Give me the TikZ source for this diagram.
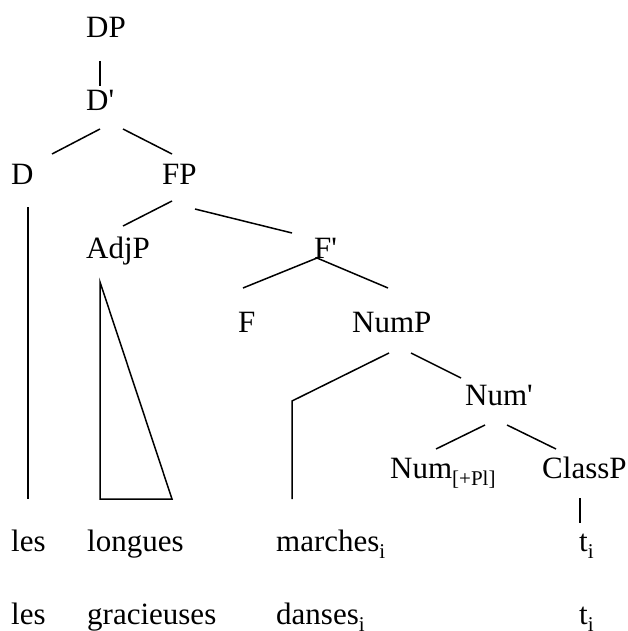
\documentclass[tikz,border=0pt]{standalone}
\usepackage{fontspec}
\setmainfont{Liberation Serif}
\newcommand{\mysub}[1]{\raisebox{-7pt}{\fontsize{21}{24}\selectfont #1}}
\begin{document}
\begin{tikzpicture}[x=1pt,y=-1pt,
  lbl/.style={anchor=base west, inner sep=0pt, font=\fontsize{31}{36}\selectfont},
  branch/.style={line width=1.5pt, line join=miter}]
\useasboundingbox (0,0) rectangle (628,631);
% labels
\node[lbl] (DP) at (86,38) {DP};
\node[lbl] (Dbar) at (86,111) {D\textquotesingle};
\node[lbl] (D) at (11,184) {D};
\node[lbl] (FP) at (162,184) {FP};
\node[lbl] (AdjP) at (86,258) {AdjP};
\node[lbl] (Fbar) at (314,258) {F\textquotesingle};
\node[lbl] (F) at (238,332) {F};
\node[lbl] (NumP) at (352,332) {NumP};
\node[lbl] (Numbar) at (465,405) {Num\textquotesingle};
\node[lbl] (Num) at (390,478) {Num\mysub{[+Pl]}};
\node[lbl] (ClassP) at (542,478) {ClassP};
\node[lbl] (les1) at (11,551) {les};
\node[lbl] (longues) at (87,551) {longues};
\node[lbl] (marches) at (276,551) {marches\mysub{i}};
\node[lbl] (t1) at (579,551) {t\mysub{i}};
\node[lbl] (les2) at (11,624) {les};
\node[lbl] (gracieuses) at (87,624) {gracieuses};
\node[lbl] (danses) at (276,624) {danses\mysub{i}};
\node[lbl] (t2) at (579,624) {t\mysub{i}};
% branch end points
\coordinate (dpB) at (100,61);  \coordinate (dbT) at (100,86);
\coordinate (dbL) at (100,129); \coordinate (dT) at (52,154);
\coordinate (dbR) at (123,129); \coordinate (fpT) at (172,154);
\coordinate (dB) at (28,207);   \coordinate (lesT) at (28,499);
\coordinate (fpL) at (172,201); \coordinate (adjT) at (123,226);
\coordinate (fpR) at (195,209); \coordinate (fbT) at (292,233);
\coordinate (adjA) at (100,282); \coordinate (triL) at (100,499); \coordinate (triR) at (172,499);
\coordinate (fbB) at (317,258); \coordinate (fT) at (243,288); \coordinate (npT) at (388,288);
\coordinate (npL) at (389,353); \coordinate (mK) at (292,401); \coordinate (mT) at (292,499);
\coordinate (npR) at (411,353); \coordinate (nbT) at (461,378);
\coordinate (nbL) at (485,425); \coordinate (numT) at (436,449);
\coordinate (nbR) at (507,425); \coordinate (cpT) at (556,449);
\coordinate (cpB) at (580,498); \coordinate (tT) at (580,523);
% branches
\draw[branch] (dpB) -- (dbT);
\draw[branch] (dbL) -- (dT);
\draw[branch] (dbR) -- (fpT);
\draw[branch] (dB) -- (lesT);
\draw[branch] (fpL) -- (adjT);
\draw[branch] (fpR) -- (fbT);
\draw[branch] (adjA) -- (triL) -- (triR) -- cycle;
\draw[branch] (fbB) -- (fT);
\draw[branch] (fbB) -- (npT);
\draw[branch] (npL) -- (mK) -- (mT);
\draw[branch] (npR) -- (nbT);
\draw[branch] (nbL) -- (numT);
\draw[branch] (nbR) -- (cpT);
\draw[branch] (cpB) -- (tT);
\end{tikzpicture}
\end{document}
